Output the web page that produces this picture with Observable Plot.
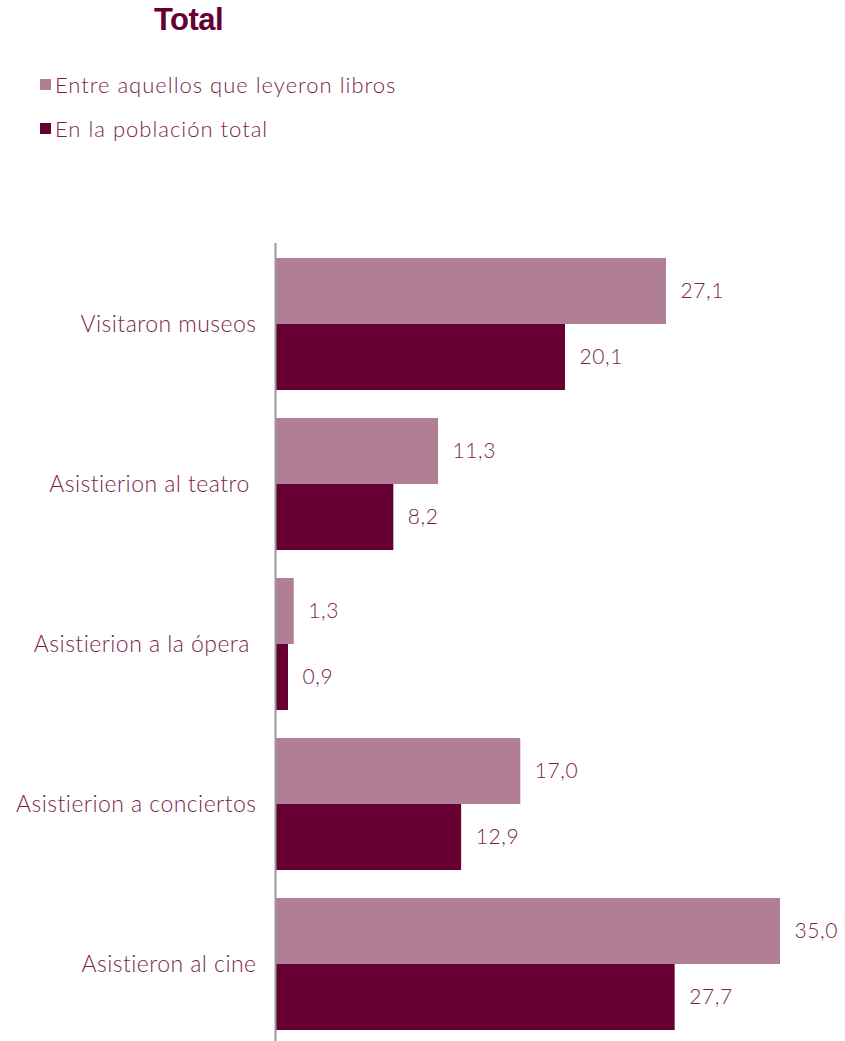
<!DOCTYPE html>
<html><head><meta charset="utf-8">
<script src="https://cdn.jsdelivr.net/npm/d3@7"></script>
<script src="https://cdn.jsdelivr.net/npm/@observablehq/plot@0.6"></script>
<style>
body{margin:0;background:#fff;font-family:Lato,"Open Sans",sans-serif;}
#head{position:relative;height:243px;width:845px;}
#title{position:absolute;left:0;width:377px;top:2px;text-align:center;font-family:"Liberation Sans",Arial,sans-serif;font-weight:bold;font-size:31px;color:#660033;letter-spacing:-0.5px}
.leg{position:absolute;left:40px;font-size:22px;font-weight:300;letter-spacing:1px;color:#7a1f4a;display:flex;align-items:center;}
.leg span.sw{display:inline-block;width:11px;height:11px;margin-right:4px;}
svg text{white-space:pre;}
svg .lbl text{font-weight:300;letter-spacing:0.45px;}
svg .val{font-weight:300;letter-spacing:0.6px;}
</style></head><body>
<div id="head">
<div id="title">Total</div>
<div class="leg" style="top:71px"><span class="sw" style="background:#b07f96"></span>Entre aquellos que leyeron libros</div>
<div class="leg" style="top:115px"><span class="sw" style="background:#660033"></span>En la población total</div>
</div>
<div id="chart"></div>
<script>
const categories = ["Visitaron museos","Asistierion al teatro ","Asistierion a la ópera ","Asistierion a conciertos","Asistieron al cine"];
const lectores = [27.1, 11.3, 1.3, 17.0, 35.0];
const poblacion = [20.1, 8.2, 0.9, 12.9, 27.7];

const dataL = categories.map((c,i)=>({cat:c, v:lectores[i]}));
const dataP = categories.map((c,i)=>({cat:c, v:poblacion[i]}));
const fmt = v => v.toFixed(1).replace(".", ",");
const half = 66;

const chart = Plot.plot({
  width: 845, height: 798,
  marginLeft: 275, marginRight: 65, marginTop: 0, marginBottom: 0,
  style: {fontFamily: "Lato, 'Open Sans', sans-serif", fontSize: "21px", color: "#7a1f4a", background: "#fff"},
  x: {domain: [0, 35], axis: null},
  y: {domain: categories, paddingInner: 0.178, paddingOuter: 0.075, align: 0.58, label: null},
  marks: [
    Plot.barX(dataL, {y: "cat", x: "v", fill: "#b07f96", insetBottom: half}),
    Plot.barX(dataP, {y: "cat", x: "v", fill: "#660033", insetTop: half}),
    Plot.text(dataL, {y: "cat", x: "v", text: d => fmt(d.v), textAnchor: "start", dx: 14, dy: -half/2, fill: "#7a1f4a", fontSize: 21, fontWeight: 300, className: "val"}),
    Plot.text(dataP, {y: "cat", x: "v", text: d => fmt(d.v), textAnchor: "start", dx: 14, dy: half/2, fill: "#7a1f4a", fontSize: 21, fontWeight: 300, className: "val"}),
    Plot.axisY({tickSize: 0, tickPadding: 19, fontSize: 23, fontWeight: 300, fill: "#7a1f4a", label: null, className: "lbl"}),
    Plot.ruleX([0], {stroke: "#999", strokeWidth: 2})
  ]
});
document.getElementById("chart").appendChild(chart);
</script>
</body></html>
